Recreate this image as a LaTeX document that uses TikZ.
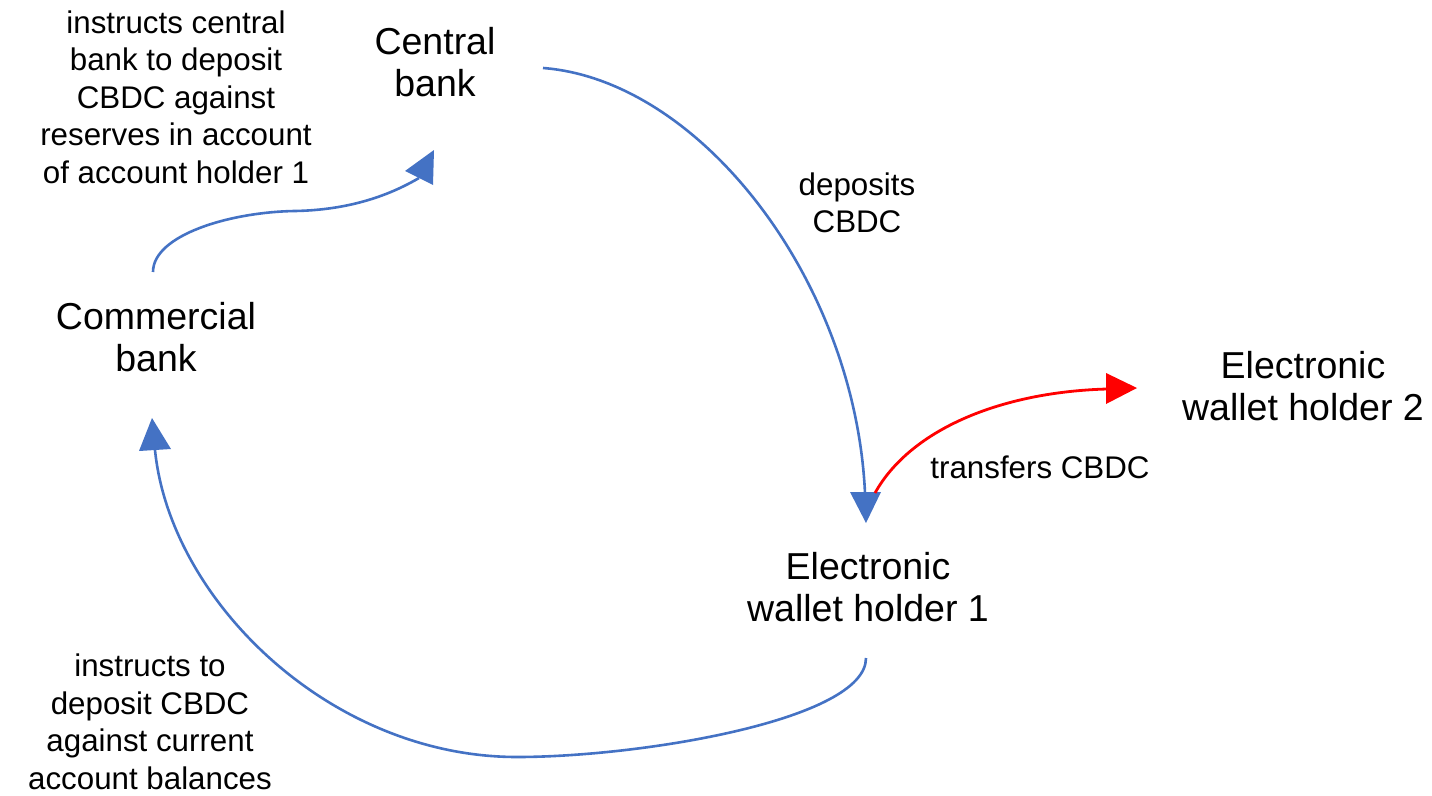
\documentclass[tikz,border=0pt]{standalone}
\usepackage{fontspec}
\setmainfont{Liberation Sans}
\usetikzlibrary{calc}
\definecolor{linkblue}{HTML}{4472C4}
\definecolor{linkred}{HTML}{FF0000}
\tikzset{
  actor/.style={align=center, inner sep=0pt, font=\fontsize{37.5}{42}\selectfont},
  note/.style={align=center, inner sep=0pt, font=\fontsize{31.3}{37.5}\selectfont},
  flow/.style={draw=linkblue, line width=2.6pt},
  flowred/.style={draw=linkred, line width=2.8pt},
  headblue/.style={fill=linkblue, draw=none},
  headred/.style={fill=linkred, draw=none}
}
\begin{document}
\begin{tikzpicture}[x=1pt, y=-1pt]
  \useasboundingbox (0,0) rectangle (1432,795);

  % parties
  \node[actor] (central)    at (435,62)   {Central\\bank};
  \node[actor] (commercial) at (156,337)  {Commercial\\bank};
  \node[actor] (wallet1)    at (868,587)  {Electronic\\wallet holder 1};
  \node[actor] (wallet2)    at (1303,386) {Electronic\\wallet holder 2};

  % flow labels
  \node[note] (instrCB)  at (176,97)  {instructs central\\bank to deposit\\CBDC against\\reserves in account\\of account holder 1};
  \node[note] (deposits) at (857,203) {deposits\\CBDC};
  \node[note] (transfer) at (1040,467) {transfers CBDC};
  \node[note] (instrCom) at (150,722) {instructs to\\deposit CBDC\\against current\\account balances};

  % connector end points
  \coordinate (comTop)  at (153,272);
  \coordinate (cbIn)    at (419,178);
  \coordinate (cbOut)   at (543,68);
  \coordinate (w1In)    at (865,493);
  \coordinate (w1Out)   at (875,493);
  \coordinate (w2In)    at (1107,389);
  \coordinate (w1Low)   at (866,658);
  \coordinate (comIn)   at (155,450);

  % commercial bank -> central bank
  \draw[flow] (comTop) .. controls (153,235) and (230,212) .. (295,211)
                       .. controls (350,210) and (390,195) .. (cbIn);
  \fill[headblue] (434,150) -- (405,171) -- (433,185) -- cycle;

  % central bank -> wallet holder 1
  \draw[flow] (cbOut) .. controls (700,80) and (855,280) .. (w1In);
  \fill[headblue] (866,523) -- (850,492) -- (881,492) -- cycle;

  % wallet holder 1 -> wallet holder 2
  \draw[flowred] (w1Out) .. controls (910,430) and (1000,392) .. (w2In);
  \fill[headred] (1137,388) -- (1106,373) -- (1106,404) -- cycle;

  % wallet holder 1 -> commercial bank
  \draw[flow] (w1Low) .. controls (866,720) and (640,757) .. (517,757)
                      .. controls (330,757) and (170,600) .. (comIn);
  \fill[headblue] (152,418) -- (139,451) -- (171,449) -- cycle;
\end{tikzpicture}
\end{document}
